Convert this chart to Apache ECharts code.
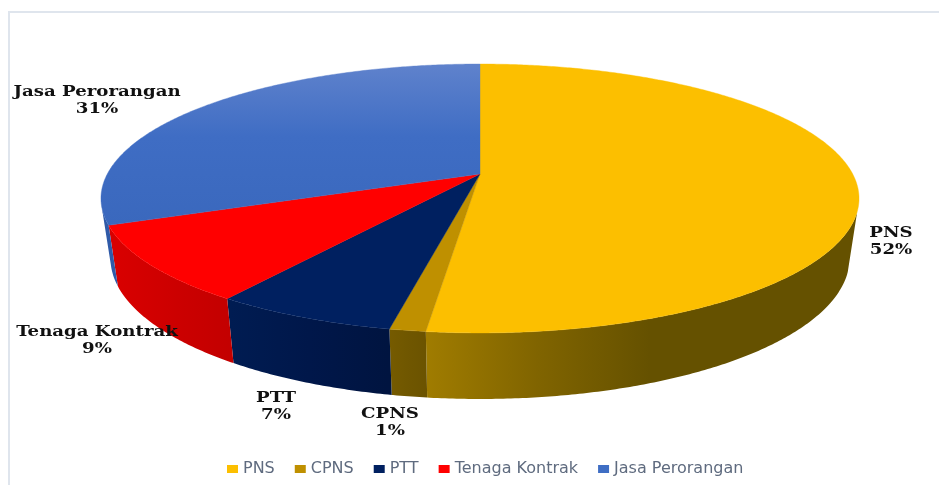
<!DOCTYPE html>
<html>
<head>
<meta charset="utf-8">
<title>Komposisi Pegawai</title>
<script src="https://cdn.jsdelivr.net/npm/echarts@6/dist/echarts.min.js"></script>
<style>
html, body { margin: 0; padding: 0; background: #fff; }
#chart { width: 939px; height: 485px; }
</style>
</head>
<body>
<div id="chart"></div>
<script>
// data (percent, labels round them)
var categories = ['PNS', 'CPNS', 'PTT', 'Tenaga Kontrak', 'Jasa Perorangan'];
var shareValues = [51.9, 1.3, 6.6, 9.2, 31.0];

// colours
var colors = ['#fcbf00', '#bf9000', '#002060', '#ff0000', '#3f6ec4'];
var wallStops = [
	['#a07c00', '#806400', '#655100'],
	['#765b00', '#705700', '#6b5300'],
	['#001c52', '#00174a', '#001440'],
	['#d80000', '#cc0000', '#c20000'],
	['#2f5aa8', '#2f5aa8', '#2f5aa8']
];
// wall gradient runs between these x values
var wallGradientX = [[426, 650], [388, 426], [230, 388], [119, 236], [100, 120]];
// label centres
var labelAt = [[891, 242], [390, 423], [276, 407], [97, 341], [97, 101]];

// perspective ellipse of the pie top, fitted to the picture
var cx = 480, apexY = 174;
var radius = 372.7, tilt = 0.182, depthY = 130;
// lower rim = top rim scaled + moved down
var wallScaleX = 0.975, wallScaleY = 1.047, wallBaseY = 232.6;
// wall silhouette angles (degrees clockwise from top)
var wallFrom = 106, wallTo = 257;

function rimPoint(deg) {
	var a = deg * Math.PI / 180;
	var X = Math.sin(a), Y = -Math.cos(a);
	var s = 1 / (1 - tilt * Y);
	return [cx + radius * X * s, apexY + depthY * Y * s];
}

function lowPoint(p) {
	return [cx + (p[0] - cx) * wallScaleX, wallBaseY + (p[1] - apexY) * wallScaleY];
}

function makeRenderItem(i) {
	return function (params, api) {
		var startDeg = api.value(1) * 3.6;
		var endDeg = startDeg + api.value(0) * 3.6;
		var topPts = [[cx, apexY]];
		var d;
		for (d = startDeg; d < endDeg; d += 0.5) {
			topPts.push(rimPoint(d));
		}
		topPts.push(rimPoint(endDeg));

		var children = [];

		// side wall, only the part that can be seen
		var wFrom = Math.max(startDeg, wallFrom);
		var wTo = Math.min(endDeg, wallTo);
		if (wTo > wFrom) {
			var upper = [], lower = [];
			for (d = wFrom; d < wTo; d += 0.5) {
				upper.push(rimPoint(d));
			}
			upper.push(rimPoint(wTo));
			for (var k = upper.length - 1; k >= 0; k--) {
				lower.push(lowPoint(upper[k]));
			}
			var st = wallStops[i];
			children.push({
				type: 'polygon',
				z2: 10 + i,
				shape: { points: upper.concat(lower) },
				style: {
					fill: new echarts.graphic.LinearGradient(wallGradientX[i][0], 0, wallGradientX[i][1], 0, [
						{ offset: 0, color: st[0] },
						{ offset: 0.5, color: st[1] },
						{ offset: 1, color: st[2] }
					], true)
				}
			});
		}

		// top face
		var topFill = colors[i];
		if (i === 4) {
			topFill = new echarts.graphic.LinearGradient(0, 64, 0, 226, [
				{ offset: 0, color: '#5f82cc' },
				{ offset: 0.45, color: '#3f6dc4' },
				{ offset: 1, color: '#3a68bd' }
			], true);
		}
		children.push({
			type: 'polygon',
			z2: 30 + i,
			shape: { points: topPts },
			style: { fill: topFill, stroke: topFill, lineWidth: 0.4 }
		});

		// data label, stretched sideways like the picture
		children.push({
			type: 'text',
			z2: 50,
			x: labelAt[i][0],
			y: labelAt[i][1],
			scaleX: 1.21,
			style: {
				text: categories[i] + '\n' + Math.round(api.value(0)) + '%',
				x: 0,
				y: 0,
				align: 'center',
				verticalAlign: 'middle',
				font: 'bold 15px "DejaVu Serif"',
				lineHeight: 17,
				fill: '#111'
			}
		});

		return { type: 'group', children: children };
	};
}

var seriesList = [];
var running = 0;
for (var i = 0; i < categories.length; i++) {
	seriesList.push({
		type: 'custom',
		name: categories[i],
		coordinateSystem: 'none',
		itemStyle: { color: colors[i] },
		renderItem: makeRenderItem(i),
		data: [[shareValues[i], running]]
	});
	running += shareValues[i];
}

var myChart = echarts.init(document.getElementById('chart'));
myChart.setOption({
	animation: false,
	backgroundColor: '#fff',
	// chart frame runs off the right and bottom of the shot
	graphic: [{
		type: 'rect',
		z: -1,
		shape: { x: 9, y: 12, width: 1000, height: 1000 },
		style: { fill: 'none', stroke: '#dfe5ed', lineWidth: 2 }
	}],
	legend: {
		data: categories,
		left: 222,
		top: 456,
		icon: 'rect',
		itemWidth: 11,
		itemHeight: 8,
		itemGap: 20,
		selectedMode: false,
		textStyle: {
			fontFamily: 'DejaVu Sans',
			fontSize: 16,
			color: '#5f6b7f'
		}
	},
	series: seriesList
});
</script>
</body>
</html>
